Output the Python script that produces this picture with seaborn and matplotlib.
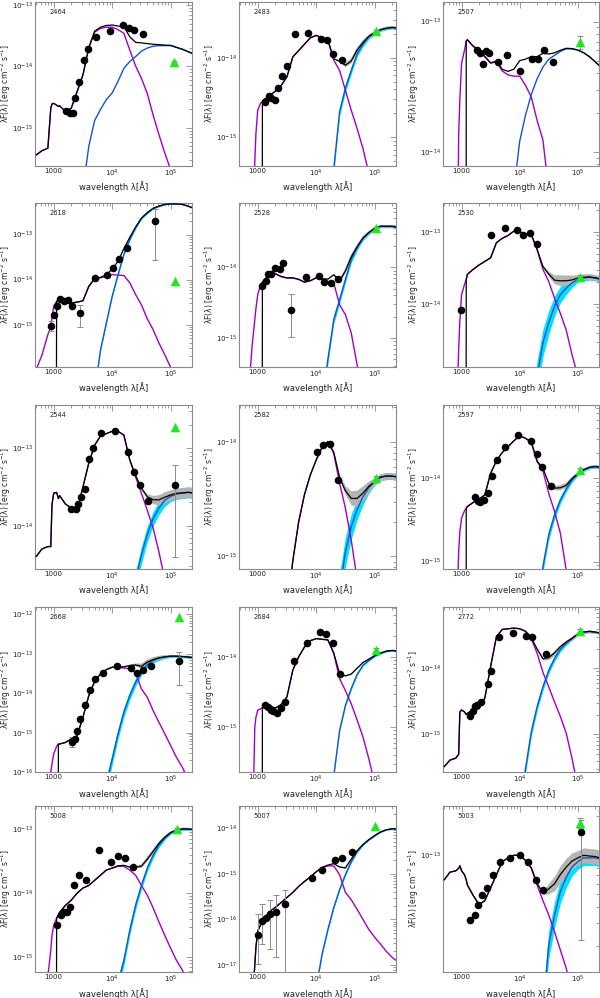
import numpy as np
import matplotlib
matplotlib.use("Agg")
import matplotlib.pyplot as plt
import seaborn as sns
from matplotlib.ticker import LogLocator, FixedLocator, FuncFormatter, NullFormatter, LogFormatterSciNotation

sns.set_theme(style="white")
plt.rcParams['font.family'] = ['DejaVu Sans']
plt.rcParams['mathtext.fontset'] = 'dejavusans'

# ---------------- data (log10 wavelength [A], log10 flux [erg cm-2 s-1]) ----------------
PANEL_IDS = ["2464", "2483", "2507", "2618", "2528", "2530", "2544", "2582", "2597",
             "2668", "2684", "2772", "5008", "5007", "5003"]

GRID_LOGWAVE = [2.70, 2.80, 2.90, 2.95, 2.97, 3.00, 3.05, 3.08, 3.10, 3.20, 3.30, 3.40,
                3.50, 3.60, 3.70, 3.80, 3.90, 4.00, 4.10, 4.20, 4.30, 4.40, 4.50, 4.60,
                4.70, 4.80, 4.90, 5.00, 5.10, 5.20, 5.30, 5.40]
DUST_LOGWAVE = [3.50, 3.60, 3.70, 3.80, 3.90, 4.00, 4.10, 4.20, 4.30, 4.40, 4.50, 4.60,
                4.70, 4.80, 4.90, 5.00, 5.10, 5.20, 5.30, 5.40]

S_2464 = [-15.44, -15.37, -15.33, -14.68, -14.61, -14.60, -14.63, -14.65, -14.64, -14.73, -14.68, -14.41, -14.14, -13.70, -13.44, -13.38, -13.36, -13.36, -13.40, -13.46, -13.73, -13.99, -14.19, -14.44, -14.79, -15.11, -15.41, -15.68, -16.0, -16.35, -16.7, -17.05]
D_2464 = [-16.0, -15.30, -14.88, -14.70, -14.54, -14.43, -14.24, -14.03, -13.92, -13.84, -13.75, -13.70, -13.67, -13.66, -13.66, -13.66, -13.69, -13.72, -13.76, -13.80]
S_2483 = [-17, -17, -17, -15.3, -14.95, -14.66, -14.57, -14.55, -14.53, -14.48, -14.42, -14.35, -14.24, -13.99, -13.91, -13.83, -13.75, -13.72, -13.75, -13.78, -14.03, -14.16, -14.41, -14.66, -14.89, -15.14, -15.45, -15.8, -16.2, -16.6, -17.0, -17.4]
D_2483 = [-19.5, -19, -18.5, -18, -17.5, -17, -16.5, -16.0, -15.4, -14.68, -14.38, -14.16, -13.95, -13.83, -13.74, -13.69, -13.65, -13.63, -13.62, -13.63]
S_2507 = [-16, -16, -16, -13.86, -13.60, -13.32, -13.22, -13.15, -13.14, -13.19, -13.22, -13.27, -13.32, -13.31, -13.38, -13.41, -13.42, -13.42, -13.49, -13.58, -13.76, -13.91, -14.3, -14.6, -14.9, -15.2, -15.5, -15.8, -16.1, -16.4, -16.7, -17.0]
D_2507 = [-15.5, -15.2, -14.9, -14.6, -14.3, -13.92, -13.72, -13.56, -13.44, -13.35, -13.29, -13.26, -13.23, -13.21, -13.21, -13.22, -13.24, -13.27, -13.31, -13.35]
S_2618 = [-16.0, -15.67, -15.22, -15.04, -14.85, -14.59, -14.48, -14.47, -14.47, -14.50, -14.52, -14.50, -14.47, -14.15, -13.98, -13.96, -13.93, -13.89, -13.90, -13.91, -14.07, -14.33, -14.56, -14.87, -15.11, -15.41, -15.67, -15.95, -16.3, -16.6, -17.0, -17.3]
D_2618 = [-18, -17.5, -16.5, -15.56, -14.96, -14.37, -13.89, -13.44, -13.11, -12.85, -12.64, -12.52, -12.42, -12.37, -12.33, -12.32, -12.32, -12.33, -12.37, -12.42]
S_2528 = [-16.5, -16.3, -15.15, -14.74, -14.58, -14.39, -14.24, -14.21, -14.19, -14.10, -14.09, -14.13, -14.15, -14.15, -14.17, -14.21, -14.19, -14.15, -14.17, -14.20, -14.22, -14.53, -14.67, -14.93, -15.38, -15.8, -16.2, -16.6, -17.0, -17.4, -17.8, -18.2]
D_2528 = [-19, -18.5, -18, -17.5, -17, -16.5, -15.9, -15.3, -14.74, -14.46, -14.17, -13.89, -13.72, -13.59, -13.51, -13.45, -13.42, -13.42, -13.42, -13.44]
S_2530 = [-16, -16, -16, -14.61, -14.24, -13.87, -13.73, -13.66, -13.59, -13.52, -13.46, -13.41, -13.36, -13.15, -13.09, -13.05, -12.99, -13.00, -13.03, -13.04, -13.25, -13.52, -13.69, -13.92, -14.13, -14.36, -14.70, -15.0, -15.3, -15.6, -15.9, -16.2]
D_2530 = [-19.8, -19.2, -18.6, -18, -17.4, -16.8, -16.2, -15.6, -15.0, -14.54, -14.26, -14.03, -13.87, -13.78, -13.71, -13.66, -13.64, -13.63, -13.64, -13.66]
S_2544 = [-14.40, -14.30, -14.27, -14.27, -13.73, -13.58, -13.57, -13.65, -13.61, -13.72, -13.77, -13.80, -13.50, -13.19, -12.96, -12.84, -12.81, -12.78, -12.78, -12.83, -13.15, -13.37, -13.58, -13.80, -14.03, -14.34, -14.7, -15.0, -15.3, -15.6, -15.9, -16.2]
D_2544 = [-20, -19.4, -18.8, -18.2, -17.6, -17, -16.4, -15.8, -15.2, -14.7, -14.38, -14.11, -13.91, -13.77, -13.67, -13.62, -13.59, -13.58, -13.57, -13.58]
S_2582 = [-20, -20, -20, -20, -20, -19, -18.5, -18.2, -18, -17.3, -16.6, -16.0, -15.5, -15.04, -14.70, -14.46, -14.29, -14.16, -14.05, -14.0, -14.10, -14.36, -14.58, -14.86, -15.2, -15.6, -16, -16.4, -16.8, -17.2, -17.6, -18]
D_2582 = [-19.8, -19.3, -18.8, -18.3, -17.8, -17.3, -16.8, -16.3, -15.8, -15.3, -14.96, -14.74, -14.59, -14.48, -14.40, -14.35, -14.31, -14.30, -14.30, -14.31]
S_2597 = [-16, -16, -16, -14.88, -14.64, -14.48, -14.39, -14.36, -14.34, -14.29, -14.25, -14.20, -13.94, -13.79, -13.69, -13.62, -13.55, -13.49, -13.52, -13.57, -13.80, -13.91, -14.18, -14.40, -14.66, -15.1, -15.5, -15.9, -16.3, -16.7, -17.1, -17.5]
D_2597 = [-19.6, -19.1, -18.6, -18.1, -17.6, -17.1, -16.6, -16.1, -15.6, -15.06, -14.68, -14.44, -14.26, -14.13, -14.02, -13.95, -13.90, -13.87, -13.86, -13.87]
S_2668 = [-17, -17, -16.5, -16.0, -15.80, -15.54, -15.35, -15.29, -15.29, -15.25, -15.16, -15.08, -14.61, -14.06, -13.70, -13.51, -13.40, -13.34, -13.34, -13.36, -13.38, -13.48, -13.89, -14.10, -14.44, -14.74, -15.03, -15.33, -15.63, -15.88, -16.2, -16.5]
D_2668 = [-19.1, -18.4, -17.7, -17.0, -16.3, -15.67, -15.03, -14.48, -14.06, -13.72, -13.45, -13.27, -13.17, -13.11, -13.08, -13.06, -13.06, -13.07, -13.08, -13.10]
S_2684 = [-17, -17, -17, -15.0, -14.86, -14.76, -14.74, -14.72, -14.70, -14.70, -14.73, -14.68, -14.57, -14.19, -14.0, -13.86, -13.77, -13.74, -13.75, -13.76, -13.95, -14.31, -14.48, -14.67, -14.90, -15.14, -15.45, -15.8, -16.1, -16.4, -16.7, -17]
D_2684 = [-19.7, -19.2, -18.7, -18.2, -17.7, -17.2, -16.7, -16.2, -15.7, -15.05, -14.69, -14.45, -14.25, -14.12, -14.05, -13.99, -13.95, -13.92, -13.91, -13.92]
S_2772 = [-15.49, -15.39, -15.36, -15.3, -14.66, -14.63, -14.66, -14.70, -14.68, -14.63, -14.61, -14.45, -13.97, -13.52, -13.41, -13.40, -13.39, -13.40, -13.44, -13.55, -13.77, -14.06, -14.28, -14.51, -14.73, -14.98, -15.36, -15.8, -16.2, -16.6, -17, -17.4]
D_2772 = [-18.6, -18.1, -17.6, -17.1, -16.6, -16.1, -15.52, -14.96, -14.58, -14.28, -14.03, -13.85, -13.71, -13.62, -13.55, -13.48, -13.45, -13.44, -13.45, -13.47]
S_5008 = [-17, -17, -15.3, -14.89, -14.66, -14.50, -14.39, -14.34, -14.30, -14.19, -14.11, -14.0, -13.92, -13.88, -13.80, -13.72, -13.64, -13.61, -13.58, -13.58, -13.64, -13.72, -13.88, -14.03, -14.23, -14.45, -14.66, -14.86, -15.05, -15.2, -15.4, -15.6]
D_5008 = [-19, -18.4, -17.8, -17.2, -16.6, -16, -15.4, -15.05, -14.58, -14.19, -13.88, -13.61, -13.41, -13.25, -13.14, -13.06, -13.02, -13.0, -13.0, -13.01]
S_5007 = [-18, -18, -18, -17.0, -16.6, -16.26, -16.11, -16.04, -16.0, -15.83, -15.74, -15.63, -15.52, -15.41, -15.28, -15.17, -15.07, -14.96, -14.87, -14.83, -14.83, -15.02, -15.41, -15.57, -15.78, -16.0, -16.22, -16.39, -16.54, -16.70, -16.83, -16.93]
D_5007 = [-20, -19.5, -19, -18.5, -18, -17.5, -16.76, -16.22, -15.74, -15.35, -15.02, -14.74, -14.52, -14.37, -14.26, -14.17, -14.09, -14.04, -14.02, -14.02]
S_5003 = [-13.19, -13.13, -13.12, -13.10, -13.08, -13.12, -13.15, -13.19, -13.23, -13.31, -13.38, -13.35, -13.25, -13.15, -13.05, -13.02, -13.0, -13.0, -13.04, -13.10, -13.23, -13.35, -13.46, -13.59, -13.73, -13.87, -14.05, -14.2, -14.35, -14.5, -14.65, -14.8]
D_5003 = [-18.7, -18.2, -17.7, -17.2, -16.7, -16.2, -15.7, -15.2, -14.7, -14.2, -13.69, -13.46, -13.28, -13.17, -13.09, -13.05, -13.02, -13.02, -13.02, -13.03]

# photometric points
PW_2464 = [3.21, 3.28, 3.33, 3.37, 3.43, 3.51, 3.59, 3.73, 3.97, 4.18, 4.28, 4.38, 4.53]
PF_2464 = [-14.73, -14.76, -14.76, -14.51, -14.25, -13.89, -13.71, -13.52, -13.42, -13.33, -13.38, -13.40, -13.47]
PW_2483 = [3.13, 3.19, 3.23, 3.29, 3.35, 3.42, 3.50, 3.63, 3.86, 4.09, 4.19, 4.29, 4.45]
PF_2483 = [-14.55, -14.48, -14.50, -14.53, -14.38, -14.23, -14.11, -13.70, -13.69, -13.77, -13.78, -13.95, -14.03]
PW_2507 = [3.27, 3.32, 3.36, 3.42, 3.48, 3.63, 3.78, 4.01, 4.22, 4.32, 4.42, 4.57]
PF_2507 = [-13.22, -13.24, -13.33, -13.23, -13.24, -13.31, -13.26, -13.38, -13.29, -13.29, -13.22, -13.31]
PW_2618 = [2.95, 3.01, 3.05, 3.11, 3.18, 3.25, 3.32, 3.45, 3.70, 3.91, 4.01, 4.11, 4.25, 4.73]
PF_2618 = [-15.04, -14.79, -14.58, -14.44, -14.47, -14.46, -14.58, -14.74, -13.96, -13.90, -13.74, -13.54, -13.30, -12.70]
PW_2528 = [3.07, 3.14, 3.18, 3.22, 3.29, 3.38, 3.43, 3.57, 3.82, 4.05, 4.13, 4.25, 4.38]
PF_2528 = [-14.27, -14.20, -14.10, -14.09, -14.01, -14.03, -13.94, -14.60, -14.14, -14.12, -14.21, -14.22, -14.16]
PW_2530 = [2.99, 3.50, 3.74, 3.95, 4.05, 4.17, 4.30]
PF_2530 = [-14.08, -13.05, -12.95, -12.98, -13.04, -13.01, -13.17]
PW_2544 = [3.30, 3.38, 3.41, 3.46, 3.53, 3.60, 3.68, 3.81, 4.05, 4.27, 4.37, 4.47, 4.62, 5.08]
PF_2544 = [-13.79, -13.78, -13.72, -13.63, -13.53, -13.14, -12.99, -12.80, -12.78, -13.05, -13.30, -13.47, -13.68, -13.48]
PW_2582 = [4.02, 4.12, 4.23, 4.37]
PF_2582 = [-14.09, -14.03, -14.02, -14.33]
PW_2597 = [3.23, 3.29, 3.32, 3.38, 3.45, 3.53, 3.61, 3.74, 3.97, 4.19, 4.29, 4.39, 4.54]
PF_2597 = [-14.23, -14.27, -14.28, -14.26, -14.18, -13.97, -13.78, -13.63, -13.48, -13.55, -13.71, -13.87, -14.09]
PW_2668 = [3.31, 3.37, 3.39, 3.45, 3.54, 3.62, 3.71, 3.85, 4.08, 4.32, 4.42, 4.53, 4.67, 5.15]
PF_2668 = [-15.25, -15.16, -14.97, -14.65, -14.31, -13.92, -13.64, -13.48, -13.30, -13.36, -13.49, -13.42, -13.32, -13.19]
PW_2684 = [3.12, 3.18, 3.22, 3.26, 3.33, 3.39, 3.46, 3.62, 3.85, 4.07, 4.17, 4.28, 4.41]
PF_2684 = [-14.68, -14.71, -14.75, -14.77, -14.80, -14.73, -14.65, -14.06, -13.80, -13.65, -13.68, -13.80, -14.25]
PW_2772 = [3.14, 3.19, 3.23, 3.27, 3.34, 3.45, 3.51, 3.65, 3.88, 4.10, 4.21, 4.45]
PF_2772 = [-14.72, -14.65, -14.57, -14.56, -14.51, -14.24, -14.04, -13.52, -13.47, -13.51, -13.53, -13.78]
PW_5008 = [3.06, 3.13, 3.18, 3.23, 3.28, 3.35, 3.43, 3.55, 3.78, 3.98, 4.10, 4.22, 4.36]
PF_5008 = [-14.50, -14.34, -14.30, -14.30, -14.22, -13.88, -13.72, -13.80, -13.33, -13.52, -13.42, -13.45, -13.59]
PW_5007 = [3.00, 3.07, 3.14, 3.21, 3.31, 3.47, 3.93, 4.10, 4.33, 4.45, 4.62]
PF_5007 = [-16.33, -16.04, -15.96, -15.89, -15.83, -15.67, -15.09, -14.91, -14.70, -14.65, -14.52]
PW_5003 = [3.14, 3.23, 3.28, 3.35, 3.43, 3.54, 3.66, 3.83, 4.00, 4.14, 4.28, 4.40, 5.06]
PF_5003 = [-13.50, -13.46, -13.38, -13.31, -13.25, -13.15, -13.05, -13.02, -13.0, -13.05, -13.19, -13.27, -12.82]

# error bars: (panel, point index, log lower, log upper)
ERR_PANEL = ["2618", "2618", "2618", "2528", "2544", "2668", "2668", "5007", "5007", "5007", "5007", "5007", "5003"]
ERR_INDEX = [0, 7, 13, 7, 13, 0, 13, 0, 1, 3, 4, 5, 12]
ERR_LO = [-15.15, -15.06, -13.56, -14.99, -14.40, -15.37, -13.79, -16.98, -16.54, -16.65, -16.83, -17.3, -13.65]
ERR_HI = [-14.93, -14.56, -12.44, -14.38, -13.22, -15.12, -12.96, -15.89, -15.67, -15.57, -15.46, -15.35, -12.73]

# green triangles (far-IR point)
TRI_WAVE = [5.05, 5.03, 5.03, 5.07, 5.03, 5.03, 5.07, 5.03, 5.03, 5.15, 5.03, 5.03, 5.10, 5.00, 5.03]
TRI_FLUX = [-13.93, -13.67, -13.16, -14.04, -13.45, -13.62, -12.72, -14.32, -13.90, -12.07, -13.90, -13.43, -13.00, -13.96, -12.75]
TRI_ERR = [0.02, 0.02, 0.05, 0.0, 0.02, 0.02, 0.0, 0.02, 0.02, 0.0, 0.02, 0.02, 0.02, 0.0, 0.04]

# axis ranges (log flux)
YLO = [-15.62, -15.36, -14.11, -15.94, -15.41, -14.875, -14.56, -15.11, -15.09, -16.0, -15.64, -15.57, -15.23, -17.15, -13.90]
YHI = [-12.95, -13.30, -12.85, -12.30, -13.09, -12.60, -12.44, -13.68, -13.12, -11.81, -13.29, -13.07, -12.64, -13.52, -12.62]

# Lyman-alpha cut of the total model (log wavelength, 0 = none)
TOT_CUT = [0, 3.06, 3.06, 3.02, 3.06, 3.06, 0, 0, 3.06, 3.06, 3.06, 0, 3.03, 0, 0]
# dust-model uncertainty (dex at peak, and growth toward short wavelengths)
DUST_UNC0 = [0.0, 0.02, 0.0, 0.01, 0.02, 0.04, 0.07, 0.03, 0.02, 0.03, 0.01, 0.02, 0.02, 0.01, 0.06]
DUST_UNC1 = [0.0, 0.06, 0.0, 0.02, 0.06, 0.25, 0.08, 0.20, 0.08, 0.12, 0.02, 0.06, 0.08, 0.03, 0.10]

STARS = [S_2464, S_2483, S_2507, S_2618, S_2528, S_2530, S_2544, S_2582, S_2597,
         S_2668, S_2684, S_2772, S_5008, S_5007, S_5003]
DUSTS = [D_2464, D_2483, D_2507, D_2618, D_2528, D_2530, D_2544, D_2582, D_2597,
         D_2668, D_2684, D_2772, D_5008, D_5007, D_5003]
PWS = [PW_2464, PW_2483, PW_2507, PW_2618, PW_2528, PW_2530, PW_2544, PW_2582, PW_2597,
       PW_2668, PW_2684, PW_2772, PW_5008, PW_5007, PW_5003]
PFS = [PF_2464, PF_2483, PF_2507, PF_2618, PF_2528, PF_2530, PF_2544, PF_2582, PF_2597,
       PF_2668, PF_2684, PF_2772, PF_5008, PF_5007, PF_5003]

# ---------------- styling ----------------
PURPLE = "#a200c8"
BLUE = "#1455c8"
CYAN = "#00e0ff"
GREY = "#b4b4b4"
GREEN = "#22e622"
FRAME = "#8a8a8a"

COL_LEFT = [35, 239, 443]
COL_RIGHT = [192, 396, 599]
ROW_TOP = [2, 203, 405, 607, 806]
ROW_BOT = [166, 367, 569, 772, 972]
W, H = 600, 998

fig = plt.figure(figsize=(6.0, 9.98), dpi=100)

grid = np.array(GRID_LOGWAVE)
dgrid = np.array(DUST_LOGWAVE)
off = len(grid) - len(dgrid)


def xfmt(v, pos):
    e = int(round(np.log10(v)))
    if e == 3:
        return "1000"
    return r"$10^{%d}$" % e


for i, pid in enumerate(PANEL_IDS):
    r, c = divmod(i, 3)
    l, rr = COL_LEFT[c], COL_RIGHT[c]
    t, b = ROW_TOP[r], ROW_BOT[r]
    ax = fig.add_axes([l / W, 1 - b / H, (rr - l) / W, (b - t) / H])
    ax.set_xscale("log")
    ax.set_yscale("log")

    star = np.array(STARS[i])
    dust_t = np.array(DUSTS[i])
    dust = np.full(len(grid), -40.0)
    dust[off:] = dust_t
    unc = DUST_UNC0[i] + DUST_UNC1[i] * np.clip(5.0 - grid, 0, None)
    tot = np.log10(10 ** star + 10 ** dust)
    tot_lo = np.log10(10 ** star + 10 ** (dust - unc))
    tot_hi = np.log10(10 ** star + 10 ** (dust + unc))
    if TOT_CUT[i] > 0:
        m = grid < TOT_CUT[i]
        tot[m] = -40
        tot_lo[m] = -40
        tot_hi[m] = -40

    lam = 10 ** grid
    dlam = 10 ** dgrid
    if DUST_UNC0[i] > 0:
        ax.fill_between(dlam, 10 ** (dust_t - unc[off:]), 10 ** (dust_t + unc[off:]),
                        color=CYAN, lw=0, zorder=1)
        ax.fill_between(lam, 10 ** tot_lo, 10 ** tot_hi, color=GREY, lw=0, zorder=1.5)

    sns.lineplot(x=lam, y=10 ** star, ax=ax, color=PURPLE, lw=1.0, sort=False,
                 estimator=None, zorder=2)
    sns.lineplot(x=dlam, y=10 ** dust_t, ax=ax, color=BLUE, lw=1.0, sort=False,
                 estimator=None, zorder=2.5)
    sns.lineplot(x=lam, y=10 ** tot, ax=ax, color="black", lw=0.9, sort=False,
                 estimator=None, zorder=3)

    pw = np.array(PWS[i])
    pf = np.array(PFS[i])
    for p, k, lo, hi in zip(ERR_PANEL, ERR_INDEX, ERR_LO, ERR_HI):
        if p == pid:
            ax.errorbar([10 ** pw[k]], [10 ** pf[k]],
                        yerr=[[10 ** pf[k] - 10 ** lo], [10 ** hi - 10 ** pf[k]]],
                        fmt="none", ecolor="#8c8c8c", elinewidth=0.7, capsize=2.5,
                        capthick=0.7, zorder=3.5)
    sns.scatterplot(x=10 ** pw, y=10 ** pf, ax=ax, color="black", s=30,
                    linewidth=0, zorder=4)
    if TRI_ERR[i] > 0:
        tf = TRI_FLUX[i]
        ax.errorbar([10 ** TRI_WAVE[i]], [10 ** tf],
                    yerr=[[10 ** tf - 10 ** (tf - TRI_ERR[i])], [10 ** (tf + TRI_ERR[i]) - 10 ** tf]],
                    fmt="none", ecolor="#8c8c8c", elinewidth=0.7, capsize=2.5,
                    capthick=0.7, zorder=4.5)
    sns.scatterplot(x=[10 ** TRI_WAVE[i]], y=[10 ** TRI_FLUX[i]], ax=ax, color=GREEN,
                    marker="^", s=48, linewidth=0, zorder=5)

    ax.set_xlim(10 ** 2.68, 10 ** 5.365)
    ax.set_ylim(10 ** YLO[i], 10 ** YHI[i])

    ax.xaxis.set_major_locator(FixedLocator([1e3, 1e4, 1e5]))
    ax.xaxis.set_major_formatter(FuncFormatter(xfmt))
    ax.xaxis.set_minor_locator(LogLocator(base=10, subs=np.arange(2, 10), numticks=20))
    ax.xaxis.set_minor_formatter(NullFormatter())
    ax.yaxis.set_major_locator(LogLocator(base=10, numticks=20))
    ax.yaxis.set_major_formatter(LogFormatterSciNotation())
    ax.yaxis.set_minor_locator(LogLocator(base=10, subs=np.arange(2, 10), numticks=20))
    ax.yaxis.set_minor_formatter(NullFormatter())

    ax.tick_params(which="both", direction="in", top=True, right=True,
                   color=FRAME, labelcolor="#222222", labelsize=5.0, width=0.6, pad=1.5)
    ax.tick_params(which="major", length=4.5)
    ax.tick_params(which="minor", length=2.2)
    for s in ax.spines.values():
        s.set_color(FRAME)
        s.set_linewidth(0.8)

    ax.set_xlabel("wavelength λ[Å]", fontsize=6.0, color="#222222")
    ax.xaxis.set_label_coords(0.5, -0.095)
    ax.set_ylabel(r"λF(λ) [erg cm$^{-2}$ s$^{-1}$]", fontsize=5.5, color="#222222")
    ax.yaxis.set_label_coords(-0.143, 0.5)
    ax.text(0.09, 0.925, pid, transform=ax.transAxes, fontsize=4.8, color="#222222")

fig.savefig("out.png", dpi=100)
